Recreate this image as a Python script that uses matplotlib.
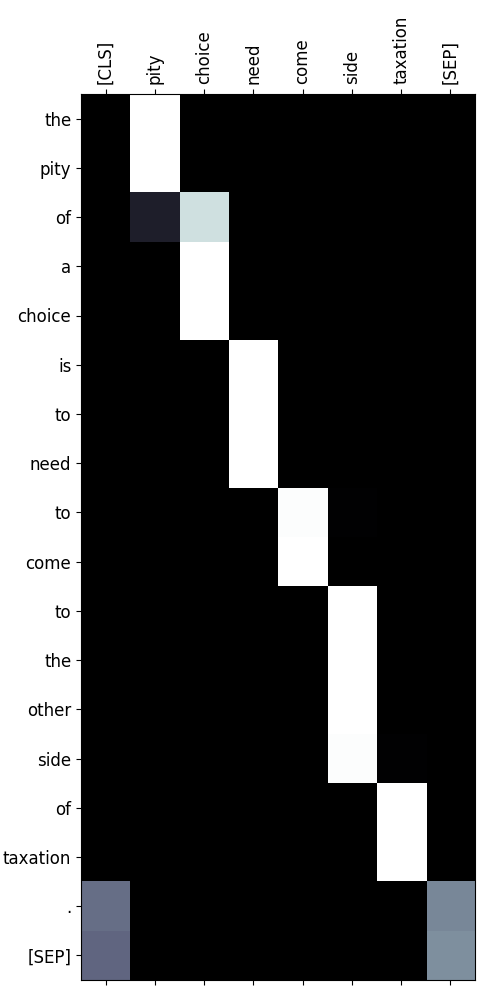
import matplotlib
matplotlib.use("Agg")
import matplotlib.pyplot as plt
import numpy as np

src_tokens = ["[CLS]", "pity", "choice", "need", "come", "side", "taxation", "[SEP]"]
tgt_tokens = ["the", "pity", "of", "a", "choice", "is", "to", "need", "to", "come",
              "to", "the", "other", "side", "of", "taxation", ".", "[SEP]"]

# attention weights, one row per target token
attn = np.array([
    [0.00, 1.00, 0.00, 0.00, 0.00, 0.00, 0.00, 0.00],
    [0.00, 1.00, 0.00, 0.00, 0.00, 0.00, 0.00, 0.00],
    [0.00, 0.14, 0.86, 0.00, 0.00, 0.00, 0.00, 0.00],
    [0.00, 0.00, 1.00, 0.00, 0.00, 0.00, 0.00, 0.00],
    [0.00, 0.00, 1.00, 0.00, 0.00, 0.00, 0.00, 0.00],
    [0.00, 0.00, 0.00, 1.00, 0.00, 0.00, 0.00, 0.00],
    [0.00, 0.00, 0.00, 1.00, 0.00, 0.00, 0.00, 0.00],
    [0.00, 0.00, 0.00, 1.00, 0.00, 0.00, 0.00, 0.00],
    [0.00, 0.00, 0.00, 0.00, 0.99, 0.01, 0.00, 0.00],
    [0.00, 0.00, 0.00, 0.00, 1.00, 0.00, 0.00, 0.00],
    [0.00, 0.00, 0.00, 0.00, 0.00, 1.00, 0.00, 0.00],
    [0.00, 0.00, 0.00, 0.00, 0.00, 1.00, 0.00, 0.00],
    [0.00, 0.00, 0.00, 0.00, 0.00, 1.00, 0.00, 0.00],
    [0.00, 0.00, 0.00, 0.00, 0.00, 0.99, 0.01, 0.00],
    [0.00, 0.00, 0.00, 0.00, 0.00, 0.00, 1.00, 0.00],
    [0.00, 0.00, 0.00, 0.00, 0.00, 0.00, 1.00, 0.00],
    [0.46, 0.00, 0.00, 0.00, 0.00, 0.00, 0.00, 0.54],
    [0.43, 0.00, 0.00, 0.00, 0.00, 0.00, 0.00, 0.57],
])

fig = plt.figure(figsize=(5, 10), dpi=100)
ax = fig.add_axes([0.162, 0.02, 0.788, 0.886])
ax.imshow(attn, cmap="bone", vmin=0, vmax=1, aspect="auto", interpolation="nearest")
ax.set_xticks(range(len(src_tokens)))
ax.set_xticklabels(src_tokens, rotation=90, fontsize=12)
ax.set_yticks(range(len(tgt_tokens)))
ax.set_yticklabels(tgt_tokens, fontsize=12)
ax.xaxis.tick_top()
ax.tick_params(axis="x", bottom=True, top=True)

fig.savefig("out.png", dpi=100)
